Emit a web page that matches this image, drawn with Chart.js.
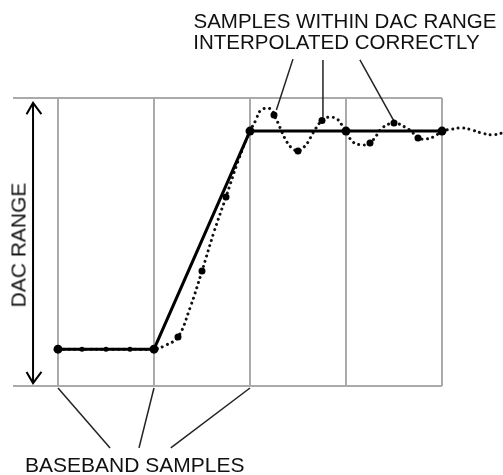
<!DOCTYPE html>
<html><head><meta charset="utf-8">
<script src="https://cdn.jsdelivr.net/npm/chart.js@4/dist/chart.umd.min.js"></script>
<style>
html,body{margin:0;padding:0;background:#fff;}
#wrap{position:relative;width:503px;height:475px;overflow:hidden;background:#fff;}
canvas{position:absolute;left:0;top:0;}
.t{position:absolute;font-family:"Liberation Sans",Arial,sans-serif;color:#111;white-space:nowrap;}
</style></head><body>
<div id="wrap">
<canvas id="c" width="503" height="475"></canvas>
<div class="t" style="left:193.5px;top:10.8px;font-size:20.5px;line-height:20.5px">SAMPLES WITHIN DAC RANGE</div>
<div class="t" style="left:193.3px;top:32.3px;font-size:20.5px;line-height:20.5px">INTERPOLATED CORRECTLY</div>
<div class="t" style="left:25px;top:454px;font-size:21px;line-height:21px">BASEBAND SAMPLES</div>
<div class="t" style="left:17.7px;top:245px;font-size:21px;line-height:21px;transform:translate(-50%,-50%) rotate(-90deg);">DAC RANGE</div>
</div>
<script>
// Sample index axis (one unit = one baseband-rate sample), DAC range 0..100
const gridX = [0, 4, 8, 12, 16];
const frameX = [-1.875, 16];
const frameY = [0, 100];

// Baseband samples (solid line)
const basebandX = [0, 1, 2, 3, 4, 8, 12, 16];
const basebandY = [12.8, 12.8, 12.8, 12.8, 12.8, 88.5, 88.5, 88.5];
const basebandR = [4.5, 2.5, 2.5, 2.5, 4.5, 4.5, 4.5, 4.5];

// Interpolated samples (dots on dotted curve)
const interpX = [5, 6, 7, 9, 10, 11, 13, 14, 15];
const interpY = [17.0, 39.9, 65.6, 94.1, 81.6, 92.2, 84.4, 91.3, 86.1];

// Interpolated (reconstructed) waveform, dotted
const curveX = [0, 1, 2, 3, 4, 4.5, 5, 5.5, 6, 6.5, 7, 7.5, 8, 8.25, 8.42, 8.7, 8.92, 9, 9.17, 9.33, 9.54, 9.75, 10, 10.2, 10.42, 10.62, 11, 11.33, 11.67, 11.83, 12, 12.29, 12.71, 13, 13.29, 13.5, 14, 14.46, 14.75, 15, 15.38, 15.71, 16, 16.42, 16.83, 17.25, 17.67, 18.08, 18.5, 18.9];
const curveY = [12.8, 12.8, 12.8, 12.8, 12.8, 14.2, 17.0, 27.1, 39.9, 53.5, 65.6, 78.0, 88.5, 92.4, 95.5, 96.5, 95.8, 94.1, 91.3, 88.2, 84.7, 82.6, 81.6, 82.6, 84.7, 87.8, 92.2, 93.4, 92.4, 90.6, 88.5, 84.7, 83.7, 84.4, 87.2, 89.6, 91.3, 89.9, 88.2, 86.1, 85.8, 86.8, 88.5, 89.2, 89.6, 88.9, 87.8, 87.2, 87.8, 88.5];

// Callout leader lines [x0, y0, x1, y1]
const calloutsBottom = [[0, -0.7, 2.17, -21.5], [4, -0.7, 3.375, -21.5], [8, -0.7, 4.7, -21.5]];
const calloutsTop = [[9.79, 113.5, 9.1, 95.8], [11.04, 113.2, 11.04, 93.4], [12.58, 113.2, 14.0, 92.0]];

// DAC range double arrow
const arrowShaft = [[-1.04, 98.3], [-1.04, 1.0]];
const arrowTop = [[-1.31, 94.4], [-1.04, 98.3], [-0.69, 94.4]];
const arrowBottom = [[-1.31, 4.9], [-1.04, 1.0], [-0.69, 4.9]];

const pts = (xs, ys) => xs.map((x, i) => ({x, y: ys[i]}));
const pairs = a => a.map(p => ({x: p[0], y: p[1]}));

const lineDs = (data, w, color, order) => ({
  type: 'line', data, borderColor: color, borderWidth: w, pointRadius: 0,
  fill: false, tension: 0, clip: false, order
});

const datasets = [
  Object.assign(lineDs(pts(curveX, curveY), 3, '#111', 6), {
    tension: 0.4, borderDash: [0.01, 5.5], borderCapStyle: 'round'
  }),
  {
    type: 'line', data: pts(basebandX, basebandY), borderColor: '#000', borderWidth: 3,
    pointRadius: basebandR, pointBackgroundColor: '#000', pointBorderWidth: 0,
    fill: false, tension: 0, clip: false, order: 2
  },
  {
    type: 'line', data: pts(interpX, interpY), showLine: false, pointRadius: 3.5,
    pointBackgroundColor: '#000', pointBorderWidth: 0, clip: false, order: 1
  }
];
frameY.forEach(y => datasets.push(lineDs(frameX.map(x => ({x, y})), 2, '#aaaaaa', 9)));
calloutsBottom.concat(calloutsTop).forEach(c => {
  datasets.push(lineDs([{x: c[0], y: c[1]}, {x: c[2], y: c[3]}], 1.5, '#222', 4));
});
[arrowShaft, arrowTop, arrowBottom].forEach(a => datasets.push(lineDs(pairs(a), 2, '#000', 3)));

new Chart(document.getElementById('c'), {
  type: 'line',
  data: {datasets},
  options: {
    responsive: false, animation: false, events: [],
    layout: {padding: {left: 13, right: 0, top: 98, bottom: 89}, autoPadding: false},
    plugins: {legend: {display: false}, tooltip: {enabled: false}, title: {display: false}},
    scales: {
      x: {
        type: 'linear', min: -1.875, max: 18.542,
        ticks: {display: false}, border: {display: false},
        grid: {color: '#aaaaaa', lineWidth: 2, drawTicks: false},
        afterBuildTicks: s => { s.ticks = gridX.map(v => ({value: v})); }
      },
      y: {
        type: 'linear', min: 0, max: 100,
        ticks: {display: false}, border: {display: false},
        grid: {display: false, drawTicks: false}
      }
    }
  }
});
</script>
</body></html>
